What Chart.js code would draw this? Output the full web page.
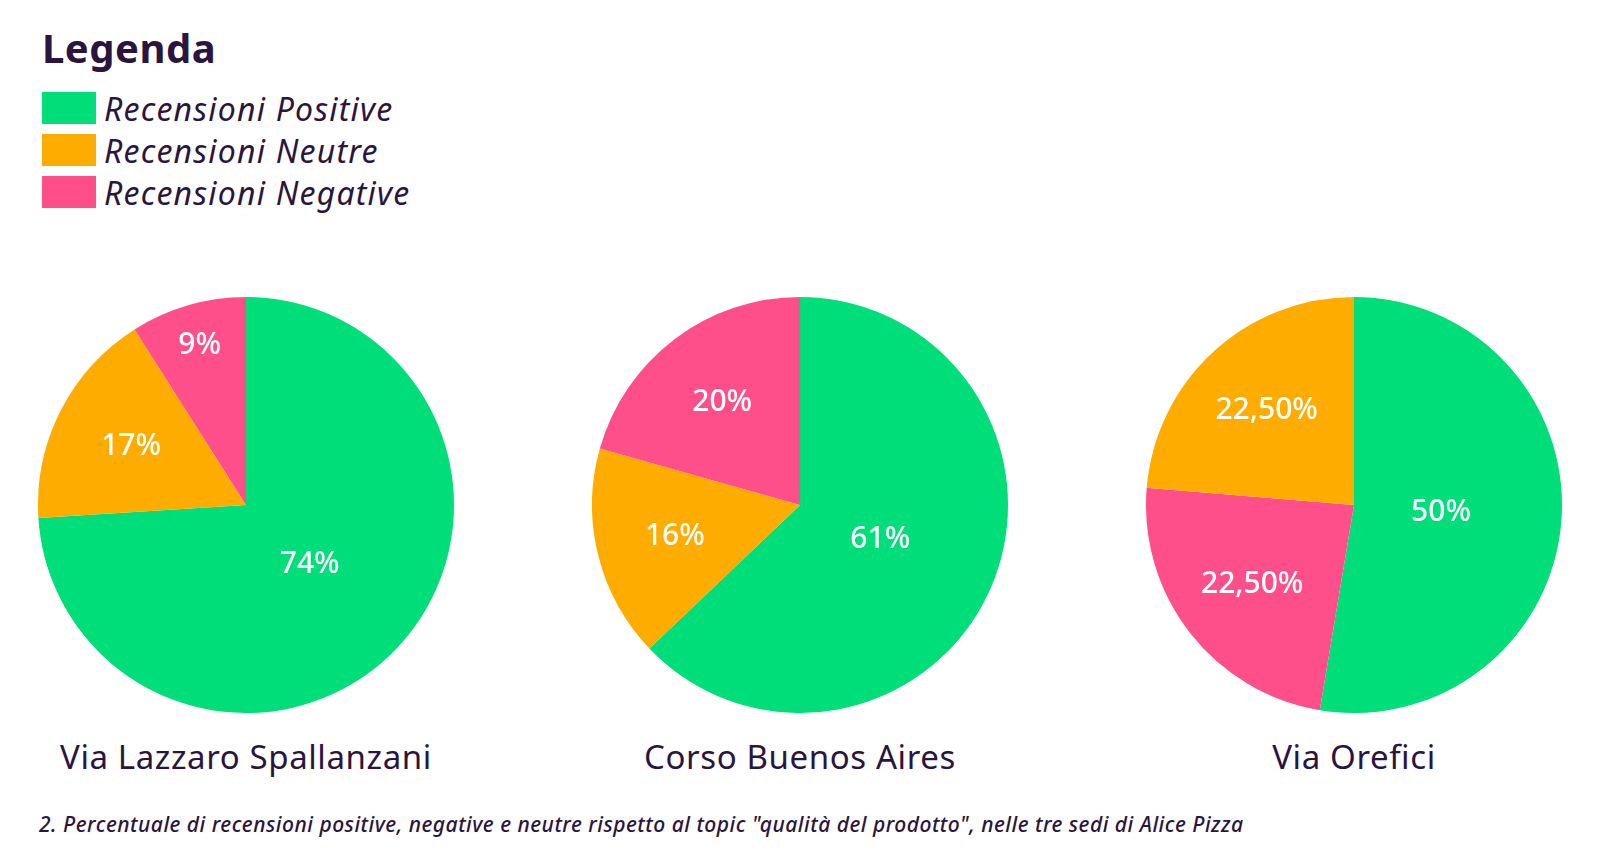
<!DOCTYPE html>
<html><head><meta charset="utf-8">
<script src="https://cdn.jsdelivr.net/npm/chart.js@4"></script>
<style>
body{margin:0;width:1600px;height:856px;background:#fff;font-family:"Noto Sans",sans-serif;color:#2a1540;position:relative;overflow:hidden}
.pie{position:absolute;width:416px;height:416px;top:297px}
.t{position:absolute;top:734px;width:560px;text-align:center;font-size:33px;letter-spacing:0.6px}
#leg{position:absolute;left:42px;top:20px}
#leg h1{margin:0 0 12px 0;font-size:40px;font-weight:700;letter-spacing:0.5px}
.li{display:flex;align-items:center;height:42px;font-size:32px;font-style:italic;letter-spacing:1.2px}
.sw{width:54px;height:32px;margin-right:8px}
#cap{position:absolute;left:39px;top:810px;font-size:21px;font-style:italic;font-weight:500;letter-spacing:0.5px}
</style></head><body>
<div id="leg"><h1>Legenda</h1></div>
<div class="pie" style="left:38px"><canvas id="c0"></canvas></div>
<div class="pie" style="left:592px"><canvas id="c1"></canvas></div>
<div class="pie" style="left:1146px"><canvas id="c2"></canvas></div>
<div class="t" style="left:-34px">Via Lazzaro Spallanzani</div>
<div class="t" style="left:520px">Corso Buenos Aires</div>
<div class="t" style="left:1074px">Via Orefici</div>
<div id="cap">2. Percentuale di recensioni positive, negative e neutre rispetto al topic "qualità del prodotto", nelle tre sedi di Alice Pizza</div>
<script>
const seriesNames=["Recensioni Positive","Recensioni Neutre","Recensioni Negative"];
const colors={"Recensioni Positive":"#00DE7A","Recensioni Neutre":"#FFAC00","Recensioni Negative":"#FF4F8B"};
const pieTitles=["Via Lazzaro Spallanzani","Corso Buenos Aires","Via Orefici"];
const pie1Labels=["Recensioni Positive","Recensioni Neutre","Recensioni Negative"];
const pie1Values=[74,17,9];
const pie1Text=["74%","17%","9%"];
const pie2Labels=["Recensioni Positive","Recensioni Neutre","Recensioni Negative"];
const pie2Values=[61,16,20];
const pie2Text=["61%","16%","20%"];
const pie3Labels=["Recensioni Positive","Recensioni Negative","Recensioni Neutre"];
const pie3Values=[50,22.5,22.5];
const pie3Text=["50%","22,50%","22,50%"];

const leg=document.getElementById('leg');
seriesNames.forEach(n=>{const d=document.createElement('div');d.className='li';
d.innerHTML='<div class="sw" style="background:'+colors[n]+'"></div>'+n;leg.appendChild(d);});

const lbl={id:'lbl',afterDatasetsDraw(ch){const ctx=ch.ctx;const meta=ch.getDatasetMeta(0);const txt=ch.options.plugins.lbl.text;
meta.data.forEach((a,i)=>{const p=a.getProps(['startAngle','endAngle','outerRadius','x','y'],true);
const m=(p.startAngle+p.endAngle)/2;const span=p.endAngle-p.startAngle;const f=span>Math.PI?0.42:(span<0.7?0.8:0.62);
ctx.save();ctx.fillStyle='#fff';ctx.font='500 30px "Noto Sans"';ctx.textAlign='center';ctx.textBaseline='middle';
ctx.fillText(txt[i],p.x+Math.cos(m)*p.outerRadius*f,p.y+Math.sin(m)*p.outerRadius*f);ctx.restore();});}};

[[pie1Labels,pie1Values,pie1Text],[pie2Labels,pie2Values,pie2Text],[pie3Labels,pie3Values,pie3Text]].forEach((d,k)=>{
new Chart(document.getElementById('c'+k),{type:'pie',data:{labels:d[0],datasets:[{data:d[1],backgroundColor:d[0].map(l=>colors[l]),borderWidth:0}]},
options:{responsive:true,maintainAspectRatio:false,animation:false,layout:{padding:0},
plugins:{legend:{display:false},tooltip:{enabled:false},lbl:{text:d[2]}}},plugins:[lbl]});});
</script></body></html>
